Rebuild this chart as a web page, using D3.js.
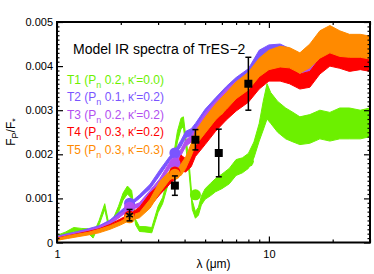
<!DOCTYPE html>
<html>
<head>
<meta charset="utf-8">
<script src="https://cdn.jsdelivr.net/npm/d3@7"></script>
<style>
  body { margin: 0; background: #fff; }
  svg { font-family: "Liberation Sans", Arial, sans-serif; }
</style>
</head>
<body>
<div id="chart"></div>
<script>
var svgWidth = 374;
var svgHeight = 274;

var margin = { top: 22, right: 4, bottom: 31.5, left: 57 };
var chartWidth = svgWidth - margin.left - margin.right;
var chartHeight = svgHeight - margin.top - margin.bottom;

// flux values are in units of 1e-3 (F_p / F_*)
var unit = 0.001;

// model T1 (green) has its own wavelength grid
var lamT1 = [1.0, 1.1, 1.2, 1.3, 1.4, 1.48, 1.58, 1.68, 1.76, 1.85, 1.95, 2.05, 2.15, 2.25, 2.35, 2.45, 2.6, 2.8, 3.0, 3.15,
  3.3, 3.5, 3.7, 3.85, 3.95, 4.05, 4.2, 4.35, 4.5, 4.65, 4.8, 5.0, 5.3, 5.6, 6.0, 6.5, 7.0, 7.5, 8.0, 8.5,
  9.0, 9.4, 9.8, 10.2, 11, 12, 13, 14, 15.6, 17.4, 19.4, 21.6, 24, 27, 30];
var t1Lo = [0.08, 0.16, 0.25, 0.24, 0.22, 0.10, 0.40, 0.75, 0.30, 0.45, 0.68, 0.96, 1.10, 1.00, 0.40, 0.25, 0.24, 0.22, 0.68, 0.88,
  1.22, 1.60, 2.28, 2.58, 2.62, 2.18, 1.58, 0.75, 0.55, 0.62, 0.85, 0.98, 1.06, 1.15, 1.22, 1.33, 1.52, 1.58, 1.68, 1.92,
  2.30, 2.55, 2.80, 2.70, 2.50, 2.35, 2.28, 2.22, 2.25, 2.35, 2.30, 2.35, 2.35, 2.35, 2.40];
var t1Hi = [0.16, 0.24, 0.34, 0.32, 0.31, 0.18, 0.50, 0.88, 0.40, 0.56, 0.82, 1.12, 1.28, 1.18, 0.52, 0.36, 0.36, 0.34, 0.82, 1.02,
  1.38, 1.80, 2.52, 2.82, 2.85, 2.42, 1.82, 0.95, 0.70, 0.80, 1.05, 1.22, 1.34, 1.45, 1.55, 1.68, 1.88, 1.92, 2.02, 2.28,
  2.70, 3.20, 3.60, 3.40, 3.20, 3.05, 2.95, 2.85, 2.90, 3.00, 2.95, 3.05, 3.05, 3.00, 3.05];

// models T2..T5 share one wavelength grid
var lamModel = [1.0, 1.12, 1.25, 1.4, 1.58, 1.78, 2.0, 2.2, 2.45, 2.75, 3.05, 3.4, 3.65, 3.85, 4.05, 4.3, 4.5,
  5.0, 5.6, 6.3, 7.0, 8.0, 9.0, 10, 11.3, 12.5, 14, 15.6, 17.4, 19.4, 21.6, 24, 27, 30];
var t2Lo = [0.09, 0.14, 0.19, 0.25, 0.32, 0.45, 0.65, 0.82, 1.00, 1.22, 1.52, 1.85, 2.03, 2.18, 2.38, 2.42, 2.52,
  2.88, 3.12, 3.36, 3.56, 3.76, 4.12, 4.30, 4.32, 4.20, 3.98, 3.95, 4.12, 4.28, 4.22, 4.18, 4.18, 4.18];
var t2Hi = [0.14, 0.20, 0.25, 0.31, 0.38, 0.51, 0.72, 0.89, 1.08, 1.32, 1.64, 1.95, 2.13, 2.32, 2.52, 2.58, 2.70,
  3.02, 3.28, 3.54, 3.74, 3.94, 4.36, 4.48, 4.50, 4.40, 4.20, 4.15, 4.35, 4.50, 4.46, 4.42, 4.42, 4.40];
var t3Lo = [0.08, 0.12, 0.17, 0.22, 0.29, 0.41, 0.59, 0.75, 0.80, 1.06, 1.32, 1.68, 1.82, 1.98, 2.18, 2.28, 2.42,
  2.76, 3.00, 3.28, 3.45, 3.62, 3.95, 4.10, 4.12, 4.05, 3.85, 3.85, 4.05, 4.20, 4.15, 4.10, 4.10, 4.10];
var t3Hi = [0.12, 0.18, 0.23, 0.28, 0.35, 0.47, 0.65, 0.81, 0.90, 1.18, 1.44, 1.82, 1.94, 2.12, 2.32, 2.42, 2.58,
  2.94, 3.20, 3.48, 3.65, 3.82, 4.15, 4.30, 4.32, 4.25, 4.05, 4.05, 4.25, 4.40, 4.35, 4.30, 4.30, 4.30];
var t4Lo = [0.06, 0.11, 0.15, 0.19, 0.25, 0.35, 0.46, 0.56, 0.60, 0.82, 1.08, 1.32, 1.45, 1.62, 1.60, 1.72, 1.95,
  2.22, 2.52, 2.78, 2.98, 3.18, 3.48, 3.66, 3.66, 3.60, 3.48, 3.52, 3.82, 4.00, 3.95, 3.88, 3.92, 3.88];
var t4Hi = [0.10, 0.15, 0.20, 0.25, 0.31, 0.41, 0.54, 0.64, 0.80, 1.12, 1.32, 1.58, 1.70, 1.98, 1.90, 2.00, 2.25,
  2.58, 2.88, 3.12, 3.32, 3.52, 3.82, 4.04, 4.05, 4.00, 3.82, 3.88, 4.18, 4.40, 4.35, 4.22, 4.28, 4.22];
var t5Lo = [0.05, 0.09, 0.13, 0.17, 0.22, 0.30, 0.40, 0.50, 0.56, 0.78, 1.12, 1.42, 1.50, 1.52, 1.68, 1.96, 2.20,
  2.48, 2.78, 3.02, 3.26, 3.46, 3.76, 3.92, 3.98, 3.96, 3.84, 3.96, 4.18, 4.30, 4.22, 4.20, 4.20, 4.16];
var t5Hi = [0.09, 0.15, 0.19, 0.23, 0.30, 0.38, 0.48, 0.60, 0.68, 0.98, 1.38, 1.62, 1.72, 1.78, 1.94, 2.24, 2.52,
  2.84, 3.14, 3.40, 3.64, 3.86, 4.18, 4.36, 4.45, 4.42, 4.30, 4.50, 4.80, 4.92, 4.80, 4.72, 4.72, 4.68];

// band-averaged model points (null = not visible in the figure)
var bandLam = [2.2, 3.6, 4.5, 5.8, 8.0];
var t1Band = [null, null, 1.08, null, 1.84];
var t2Band = [0.89, 2.03, null, null, null];
var t3Band = [0.80, 1.80, null, null, null];
var t4Band = [0.60, 1.60, null, null, null];
var t5Band = [0.56, 1.55, null, 3.00, null];

// observed eclipse depths
var obsLam = [2.2, 3.6, 4.5, 5.8, 8.0];
var obsVal = [0.62, 1.29, 2.33, 2.03, 3.60];
var obsErr = [0.13, 0.22, 0.23, 0.54, 0.60];

var modelNames = ["T1", "T2", "T3", "T4", "T5"];
var modelPn = ["0.2", "0.1", "0.2", "0.3", "0.3"];
var modelKappa = ["0.0", "0.2", "0.2", "0.2", "0.3"];
var modelColors = ["#6cf000", "#7a55ff", "#b24ff0", "#ff0000", "#ff8a00"];

var xTicks = [1, 10];
var xMinorTicks = [2, 3, 4, 5, 6, 7, 8, 9, 20, 30];
var yTicks = [0, 0.001, 0.002, 0.003, 0.004, 0.005];
var yTickLabels = ["0", "0.001", "0.002", "0.003", "0.004", "0.005"];

var models = [
  { lam: lamT1, lo: t1Lo, hi: t1Hi, band: t1Band },
  { lam: lamModel, lo: t2Lo, hi: t2Hi, band: t2Band },
  { lam: lamModel, lo: t3Lo, hi: t3Hi, band: t3Band },
  { lam: lamModel, lo: t4Lo, hi: t4Hi, band: t4Band },
  { lam: lamModel, lo: t5Lo, hi: t5Hi, band: t5Band }
];

var svg = d3.select("#chart")
  .append("svg")
  .attr("width", svgWidth)
  .attr("height", svgHeight);

var chartGroup = svg.append("g")
  .attr("transform", `translate(${margin.left}, ${margin.top})`);

var xScale = d3.scaleLog()
  .domain([1, 30])
  .range([0, chartWidth]);

var yScale = d3.scaleLinear()
  .domain([0, 0.005])
  .range([chartHeight, 0]);

var clip = svg.append("clipPath").attr("id", "plotclip")
  .append("rect")
  .attr("width", chartWidth)
  .attr("height", chartHeight);

var plot = chartGroup.append("g").attr("clip-path", "url(#plotclip)");

// spectra as noisy bands
var area = d3.area()
  .x(d => xScale(d.lam))
  .y0(d => yScale(d.lo * unit))
  .y1(d => yScale(d.hi * unit));

models.forEach(function(m, i) {
  var pts = m.lam.map((l, j) => ({ lam: l, lo: m.lo[j], hi: m.hi[j] }));
  plot.append("path")
    .datum(pts)
    .attr("d", area)
    .attr("fill", modelColors[i])
    .attr("stroke", modelColors[i])
    .attr("stroke-width", 1)
    .attr("stroke-linejoin", "round");
});

// band-averaged circles
models.forEach(function(m, i) {
  var pts = bandLam.map((l, j) => ({ lam: l, v: m.band[j] })).filter(d => d.v !== null);
  plot.selectAll(null)
    .data(pts)
    .enter()
    .append("circle")
    .attr("cx", d => xScale(d.lam))
    .attr("cy", d => yScale(d.v * unit))
    .attr("r", 5.5)
    .attr("fill", modelColors[i]);
});

// observations
var obs = obsLam.map((l, j) => ({ lam: l, v: obsVal[j], e: obsErr[j] }));
var obsGroup = chartGroup.selectAll(".obs")
  .data(obs)
  .enter()
  .append("g")
  .attr("transform", d => `translate(${xScale(d.lam)}, 0)`);

obsGroup.append("line")
  .attr("y1", d => yScale((d.v - d.e) * unit))
  .attr("y2", d => yScale((d.v + d.e) * unit))
  .attr("stroke", "black")
  .attr("stroke-width", 1.5);

obsGroup.selectAll(".cap")
  .data(d => [d.v - d.e, d.v + d.e])
  .enter()
  .append("line")
  .attr("x1", -3)
  .attr("x2", 3)
  .attr("y1", d => yScale(d * unit))
  .attr("y2", d => yScale(d * unit))
  .attr("stroke", "black")
  .attr("stroke-width", 1.5);

obsGroup.append("path")
  .attr("transform", d => `translate(0, ${yScale(d.v * unit)})`)
  .attr("d", (d, j) => j === 0
    ? d3.symbol().type(d3.symbolAsterisk).size(40)()
    : d3.symbol().type(d3.symbolSquare).size(64)())
  .attr("fill", "black")
  .attr("stroke", "black")
  .attr("stroke-width", (d, j) => j === 0 ? 1.5 : 0);

// axes (ticks pointing inward, frame drawn separately)
function styleAxis(g) {
  g.select(".domain").remove();
  g.selectAll(".tick line").attr("stroke", "black").attr("stroke-width", 1.2);
  g.selectAll("text").attr("fill", "black").attr("font-size", "11px");
}

chartGroup.append("g")
  .attr("transform", `translate(0, ${chartHeight})`)
  .call(d3.axisBottom(xScale).tickValues(xTicks).tickFormat(d3.format("d"))
    .tickSizeInner(-6).tickSizeOuter(0).tickPadding(8))
  .call(styleAxis);
chartGroup.append("g")
  .attr("transform", `translate(0, ${chartHeight})`)
  .call(d3.axisBottom(xScale).tickValues(xMinorTicks).tickFormat("")
    .tickSizeInner(-3).tickSizeOuter(0))
  .call(styleAxis);
chartGroup.append("g")
  .call(d3.axisTop(xScale).tickValues(xTicks).tickFormat("").tickSizeInner(-6).tickSizeOuter(0))
  .call(styleAxis);
chartGroup.append("g")
  .call(d3.axisTop(xScale).tickValues(xMinorTicks).tickFormat("").tickSizeInner(-3).tickSizeOuter(0))
  .call(styleAxis);

var yMinor = d3.range(1, 50).filter(k => k % 10 !== 0).map(k => k * 0.0001);

chartGroup.append("g")
  .call(d3.axisLeft(yScale).tickValues(yTicks).tickFormat((d, i) => yTickLabels[i])
    .tickSizeInner(-6).tickSizeOuter(0).tickPadding(4))
  .call(styleAxis);
chartGroup.append("g")
  .call(d3.axisLeft(yScale).tickValues(yMinor).tickFormat("").tickSizeInner(-2.5).tickSizeOuter(0))
  .call(styleAxis);
chartGroup.append("g")
  .attr("transform", `translate(${chartWidth}, 0)`)
  .call(d3.axisRight(yScale).tickValues(yTicks).tickFormat("").tickSizeInner(-6).tickSizeOuter(0))
  .call(styleAxis);
chartGroup.append("g")
  .attr("transform", `translate(${chartWidth}, 0)`)
  .call(d3.axisRight(yScale).tickValues(yMinor).tickFormat("").tickSizeInner(-2.5).tickSizeOuter(0))
  .call(styleAxis);

chartGroup.append("rect")
  .attr("width", chartWidth)
  .attr("height", chartHeight)
  .attr("fill", "none")
  .attr("stroke", "black")
  .attr("stroke-width", 2);

// title
svg.append("text")
  .attr("x", 73)
  .attr("y", 54)
  .attr("font-size", "14px")
  .attr("fill", "black")
  .text("Model IR spectra of TrES\u22122");

// legend
var legend = svg.append("g");
modelNames.forEach(function(name, i) {
  var t = legend.append("text")
    .attr("x", 67)
    .attr("y", 84 + i * 17.4)
    .attr("font-size", "12px")
    .attr("fill", modelColors[i]);
  t.append("tspan").text(name + " (P");
  t.append("tspan").attr("font-size", "9px").attr("dy", 4).text("n");
  t.append("tspan").attr("dy", -4).text(" " + modelPn[i] + ", \u03ba\u2032=" + modelKappa[i] + ")");
});

// axis labels
svg.append("text")
  .attr("x", margin.left + chartWidth / 2)
  .attr("y", 268)
  .attr("text-anchor", "middle")
  .attr("font-size", "12px")
  .attr("fill", "black")
  .text("\u03bb (\u03bcm)");

var yLabel = svg.append("text")
  .attr("transform", "translate(15, 132) rotate(-90)")
  .attr("text-anchor", "middle")
  .attr("font-size", "12px")
  .attr("fill", "black");
yLabel.append("tspan").text("F");
yLabel.append("tspan").attr("font-size", "9px").attr("dy", 3).text("P");
yLabel.append("tspan").attr("dy", -3).text("/F");
yLabel.append("tspan").attr("font-size", "9px").attr("dy", 3).text("*");
</script>
</body>
</html>
